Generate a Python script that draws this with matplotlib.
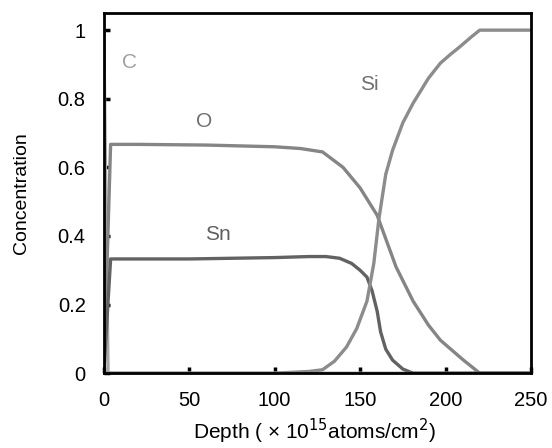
import matplotlib.pyplot as plt
from matplotlib.ticker import FuncFormatter

plt.rcParams['font.family'] = ['Liberation Sans', 'DejaVu Sans']

# depth profiles (x in 1e15 atoms/cm2)
c_x = [0, 2.5, 250]
c_y = [1.0, 0.0, 0.0]

o_x = [0, 4, 20, 60, 100, 115, 128, 140, 150, 160, 171, 181, 190, 197, 210, 220, 250]
o_y = [0, 0.667, 0.667, 0.665, 0.66, 0.655, 0.645, 0.60, 0.54, 0.46, 0.31, 0.21, 0.14, 0.096, 0.04, 0, 0]

sn_x = [0, 4, 50, 100, 120, 130, 138, 145, 150, 154, 157, 160, 162, 165, 169, 175, 181, 250]
sn_y = [0, 0.333, 0.333, 0.337, 0.34, 0.34, 0.335, 0.32, 0.30, 0.28, 0.24, 0.18, 0.12, 0.07, 0.038, 0.012, 0, 0]

si_x = [0, 100, 120, 128, 135, 142, 148, 154, 158, 161, 165, 169, 175, 181, 190, 197, 203, 208, 215, 220, 250]
si_y = [0, 0, 0.005, 0.01, 0.035, 0.076, 0.13, 0.21, 0.32, 0.45, 0.58, 0.65, 0.73, 0.787, 0.86, 0.904, 0.93, 0.95, 0.98, 1.0, 1.0]

fig = plt.figure(figsize=(5.52, 4.48), dpi=100)
ax = fig.add_axes([0.188, 0.167, 0.774, 0.804])

lw = 2.4
ax.plot(c_x, c_y, color='#a8a8a8', lw=lw)
ax.plot(o_x, o_y, color='#858585', lw=lw)
ax.plot(sn_x, sn_y, color='#626262', lw=lw)
ax.plot(si_x, si_y, color='#8c8c8c', lw=lw)

ax.text(10.5, 0.89, 'C', color='#a0a0a0', fontsize=15)
ax.text(54, 0.717, 'O', color='#707070', fontsize=15)
ax.text(59, 0.388, 'Sn', color='#606060', fontsize=15)
ax.text(150, 0.825, 'Si', color='#707070', fontsize=15)

ax.set_xlim(0, 250)
ax.set_ylim(0, 1.05)
ax.set_xticks([0, 50, 100, 150, 200, 250])
ax.set_yticks([0, 0.2, 0.4, 0.6, 0.8, 1.0])
ax.yaxis.set_major_formatter(FuncFormatter(lambda v, p: '%g' % round(v, 1)))
ax.tick_params(direction='in', length=4, width=2.5, labelsize=14.5, colors='black')
ax.tick_params(axis='y', pad=13)
ax.tick_params(axis='x', pad=13)

for s in ax.spines.values():
    s.set_linewidth(2)

ax.set_xlabel('Depth ( × 10$^{15}$atoms/cm$^{2}$)', fontsize=15, va='center')
ax.set_ylabel('Concentration', fontsize=14, va='center')
ax.xaxis.set_label_coords(0.494, -0.163)
ax.yaxis.set_label_coords(-0.192, 0.5)

fig.savefig('out.png', dpi=100)
